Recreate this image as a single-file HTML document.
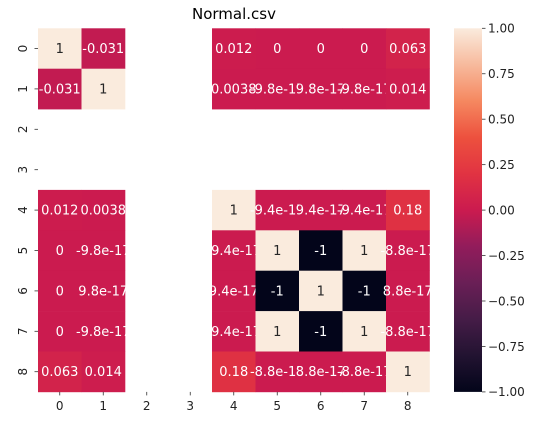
<!DOCTYPE html>
<html><head><meta charset="utf-8"><style>
html,body{margin:0;padding:0;background:#fff;}
svg{display:block;font-family:"DejaVu Sans","Liberation Sans",sans-serif;}
</style></head><body>
<svg id="chart" width="535" height="438" viewBox="0 0 535 438">
<defs>
<linearGradient id="rocket" x1="0" y1="1" x2="0" y2="0">
<stop offset="0" stop-color="#03051A"/><stop offset="0.1" stop-color="#221331"/><stop offset="0.2" stop-color="#451C47"/><stop offset="0.3" stop-color="#6A1F56"/><stop offset="0.4" stop-color="#921C5B"/><stop offset="0.5" stop-color="#CB1B4F"/><stop offset="0.6" stop-color="#E13342"/><stop offset="0.7" stop-color="#ED513E"/><stop offset="0.8" stop-color="#F58860"/><stop offset="0.9" stop-color="#F7BA9D"/><stop offset="1" stop-color="#FAEBDD"/>
</linearGradient>
</defs>
<text x="234" y="19" text-anchor="middle" font-size="15" fill="#000">Normal.csv</text>
<g id="cells"></g>
<g id="axes"></g>
<rect x="454" y="28.3" width="28" height="363.6" fill="url(#rocket)"/>
<g id="cbar"></g>
</svg>
<script>
const labels = ["0","1","2","3","4","5","6","7","8"];
const values = [
 [1,-0.031,null,null,0.012,0,0,0,0.063],
 [-0.031,1,null,null,0.0038,-9.8e-17,9.8e-17,-9.8e-17,0.014],
 [null,null,null,null,null,null,null,null,null],
 [null,null,null,null,null,null,null,null,null],
 [0.012,0.0038,null,null,1,-9.4e-17,9.4e-17,-9.4e-17,0.18],
 [0,-9.8e-17,null,null,-9.4e-17,1,-1,1,-8.8e-17],
 [0,9.8e-17,null,null,9.4e-17,-1,1,-1,8.8e-17],
 [0,-9.8e-17,null,null,-9.4e-17,1,-1,1,-8.8e-17],
 [0.063,0.014,null,null,0.18,-8.8e-17,8.8e-17,-8.8e-17,1]
];
const cbarTicks = [1,0.75,0.5,0.25,0,-0.25,-0.5,-0.75,-1];
const cbarTickLabels = ["1.00","0.75","0.50","0.25","0.00","\u22120.25","\u22120.50","\u22120.75","\u22121.00"];
const vmin=-1,vmax=1;
const X0=38,Y0=28.3,CW=43.5,CH=40.4,CB0=28.3,CBH=363.6;
const stops=[[0,"#03051A"],[0.1,"#221331"],[0.2,"#451C47"],[0.3,"#6A1F56"],[0.4,"#921C5B"],[0.5,"#CB1B4F"],[0.6,"#E13342"],[0.7,"#ED513E"],[0.8,"#F58860"],[0.9,"#F7BA9D"],[1,"#FAEBDD"]];
function hex(h){return [1,3,5].map(i=>parseInt(h.substr(i,2),16));}
function color(v){let t=(v-vmin)/(vmax-vmin);t=Math.max(0,Math.min(1,t));
 for(let i=1;i<stops.length;i++){if(t<=stops[i][0]){const a=hex(stops[i-1][1]),b=hex(stops[i][1]);const f=(t-stops[i-1][0])/(stops[i][0]-stops[i-1][0]);const c=a.map((x,k)=>Math.round(x+(b[k]-x)*f));return {c:"rgb("+c.join(",")+")",l:(0.299*c[0]+0.587*c[1]+0.114*c[2])};}}
 return {c:stops[10][1],l:240};}
function fmt(v){if(v===0)return "0";const a=Math.abs(v);if(a<1e-4){let s=v.toExponential(1);return s.replace("e-","e-");}return String(Number(v.toPrecision(2)));}
const ns="http://www.w3.org/2000/svg";
function el(tag,attrs,parent){const e=document.createElementNS(ns,tag);for(const k in attrs)e.setAttribute(k,attrs[k]);parent.appendChild(e);return e;}
const xs=i=>X0+i*CW, ys=j=>Y0+j*CH;
const cells=document.getElementById("cells");
values.forEach((row,j)=>row.forEach((v,i)=>{
 if(v===null)return;
 const col=color(v);
 const r=el("rect",{x:xs(i),y:ys(j),width:CW+0.3,height:CH+0.3,fill:col.c},cells);
 
 
 const t=el("text",{x:xs(i)+CW/2,y:ys(j)+CH/2+4.5,"text-anchor":"middle","font-size":"13",fill:col.l>128?"#262626":"#ffffff"},cells);
 
 
 t.textContent=fmt(v);
}));
const axes=document.getElementById("axes");
labels.forEach((lab,i)=>{
 const cx=xs(i)+CW/2, cy=ys(i)+CH/2;
 el("line",{x1:cx,y1:Y0+9*CH,x2:cx,y2:Y0+9*CH+3.5,stroke:"#333","stroke-width":"0.8"},axes);
 const tx=el("text",{x:cx,y:Y0+9*CH+18,"text-anchor":"middle","font-size":"12",fill:"#222"},axes);
 
 
 tx.textContent=lab;
 el("line",{x1:X0-3.5,y1:cy,x2:X0,y2:cy,stroke:"#333","stroke-width":"0.8"},axes);
 const ty=el("text",{x:0,y:0,"text-anchor":"middle","font-size":"12",fill:"#222",transform:"translate(27,"+cy+") rotate(-90)"},axes);
 
 
 ty.textContent=lab;
});
const cbar=document.getElementById("cbar");
cbarTicks.forEach((v,k)=>{
 const y=CB0+(vmax-v)/(vmax-vmin)*CBH;
 el("line",{x1:482,y1:y,x2:485.5,y2:y,stroke:"#333","stroke-width":"0.8"},cbar);
 const t=el("text",{x:488,y:y+4.3,"font-size":"12",fill:"#222"},cbar);
 
 
 t.textContent=cbarTickLabels[k];
});
</script>
</body></html>
